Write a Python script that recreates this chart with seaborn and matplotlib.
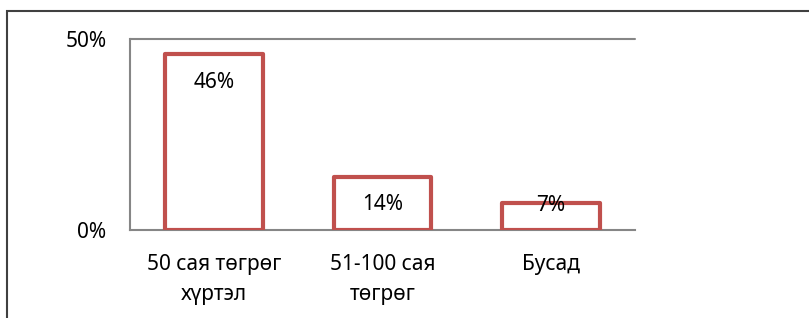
import numpy as np
import matplotlib
matplotlib.use("Agg")
import matplotlib.pyplot as plt
import matplotlib.patches as mpatches
from matplotlib.ticker import FuncFormatter
import seaborn as sns

# chart data
categories = ["50 сая төгрөг\nхүртэл", "51-100 сая\nтөгрөг", "Бусад"]
values = [0.46, 0.14, 0.07]
value_labels = ["46%", "14%", "7%"]
y_ticks = [0.0, 0.5]

sns.set_style("white")
plt.rcParams['font.family'] = ['Noto Sans', 'DejaVu Sans']
plt.rcParams['text.color'] = 'black'

fig = plt.figure(figsize=(8.09, 3.18), dpi=100)
ax = fig.add_axes([130 / 809, (318 - 230) / 318, (635 - 130) / 809, (230 - 39) / 318])

sns.barplot(x=categories, y=values, color="white", saturation=1,
            edgecolor="#C0504D", linewidth=3, width=0.58, ax=ax, zorder=3)
for p in ax.patches:
    p.set_joinstyle("round")

ax.set_ylim(0, 0.5)
ax.set_yticks(y_ticks)
ax.yaxis.set_major_formatter(FuncFormatter(lambda v, pos: f"{v:.0%}"))
ax.tick_params(axis="both", length=0, labelsize=15, colors="black")
ax.tick_params(axis="x", pad=17)
ax.tick_params(axis="y", pad=17)
ax.set_xlim(-0.5, 2.5)
for t in ax.get_xticklabels():
    t.set_linespacing(1.6)

# gridline at the top
ax.axhline(0.5, color="#868686", lw=1.5, zorder=1, clip_on=False)

for side in ["top", "right"]:
    ax.spines[side].set_visible(False)
for side in ["left", "bottom"]:
    ax.spines[side].set_color("#868686")
    ax.spines[side].set_linewidth(1.5)

# value labels inside the bars
for i, (v, lab) in enumerate(zip(values, value_labels)):
    off = -20 if v >= 0.1 else -1.5
    ax.annotate(lab, (i, v), xytext=(0, off), textcoords="offset points",
                ha="center", va="center", fontsize=15, color="black", zorder=5)

# outer border
fig.add_artist(mpatches.Rectangle((6.5 / 809, -0.2), 1.2, (318 - 11) / 318 + 0.2,
                                  transform=fig.transFigure, fill=False,
                                  edgecolor="#404040", lw=1.5))

fig.savefig("out.png", dpi=100)
